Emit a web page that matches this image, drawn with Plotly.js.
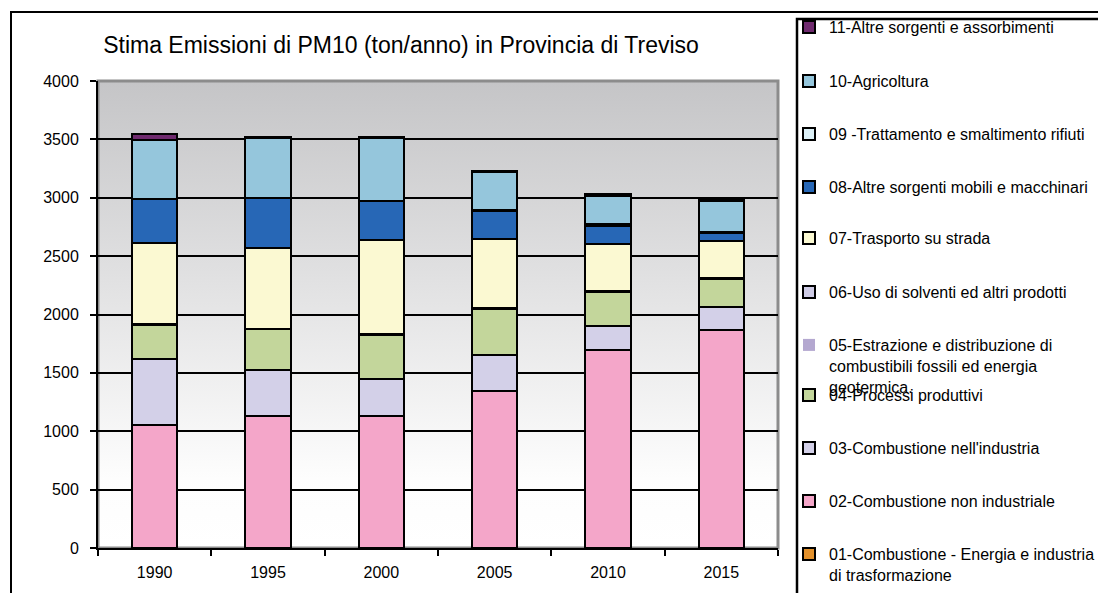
<!DOCTYPE html>
<html>
<head>
<meta charset="utf-8">
<script src="https://cdn.plot.ly/plotly-3.0.1.min.js"></script>
<style>html,body{margin:0;padding:0;background:#fff;}#chart{width:1098px;height:593px;}</style>
</head>
<body>
<div id="chart"></div>
<script>
// ---- data ----
const years = ['1990', '1995', '2000', '2005', '2010', '2015'];
const s01 = [3, 3, 3, 3, 3, 3];
const s02 = [1053, 1127, 1124, 1338, 1690, 1866];
const s03 = [560, 392, 318, 315, 208, 195];
const s04 = [297, 351, 382, 394, 294, 243];
const s05 = [2, 2, 2, 2, 2, 2];
const s06 = [3, 3, 3, 3, 3, 3];
const s07 = [698, 690, 807, 596, 405, 321];
const s08 = [372, 428, 329, 239, 157, 62];
const s09 = [5, 5, 5, 5, 12, 12];
const s10 = [502, 507, 535, 323, 242, 266];
const s11 = [48, 13, 13, 15, 15, 17];
const seriesNames = [
  '01-Combustione - Energia e industria<br>di trasformazione',
  '02-Combustione non industriale',
  "03-Combustione nell'industria",
  '04-Processi produttivi',
  '05-Estrazione e distribuzione di<br>combustibili fossili ed energia<br>geotermica.',
  '06-Uso di solventi ed altri prodotti',
  '07-Trasporto su strada',
  '08-Altre sorgenti mobili e macchinari',
  '09 -Trattamento e smaltimento rifiuti',
  '10-Agricoltura',
  '11-Altre sorgenti e assorbimenti'
];
const seriesValues = [s01, s02, s03, s04, s05, s06, s07, s08, s09, s10, s11];
const colors = ['#e3912c', '#f4a6c9', '#d3d0e8', '#c3d69b', '#b4a8d0', '#cfcce6',
                '#fbf9d2', '#2767b6', '#dcf0f7', '#95c6dc', '#6f2a6e'];
const yTicks = [0, 500, 1000, 1500, 2000, 2500, 3000, 3500, 4000];

// ---- geometry helpers ----
const W = 1098, H = 593;
const mL = 98, mR = 320, mT = 81, mB = 45;
const pw = W - mL - mR, ph = H - mT - mB;
const px = X => (X - mL) / pw;
const py = Y => (H - mB - Y) / ph;

// legend item vertical positions (pixel centre of first line), 01 (bottom) .. 11 (top)
const legendY = [553, 500, 447, 394, 344, 291, 237, 186, 133, 80, 26];
const FONT = '"Liberation Sans", Arial, sans-serif';

const traces = seriesValues.map((vals, i) => ({
  type: 'bar',
  x: years,
  y: vals,
  name: seriesNames[i],
  marker: {color: colors[i], line: {color: i === 4 ? colors[i] : '#000', width: i === 4 ? 0 : 2}},
  legend: i === 0 ? 'legend' : 'legend' + (i + 1),
  showlegend: true,
  hoverinfo: 'name+y'
}));

const layout = {
  width: W, height: H,
  showlegend: true,
  margin: {l: mL, r: mR, t: mT, b: mB, pad: 0, autoexpand: false},
  paper_bgcolor: '#ffffff',
  plot_bgcolor: 'rgba(0,0,0,0)',
  font: {family: FONT, color: '#000', size: 16},
  barmode: 'stack',
  bargap: 0.6,
  title: {
    text: 'Stima Emissioni di PM10 (ton/anno) in Provincia di Treviso',
    font: {family: FONT, size: 23, color: '#000'},
    xref: 'container', x: 401 / W, xanchor: 'center',
    yref: 'container', y: 1 - 45 / H, yanchor: 'middle'
  },
  xaxis: {
    type: 'category',
    tickson: 'boundaries',
    ticks: 'outside', ticklen: 6, tickwidth: 2, tickcolor: '#000',
    ticklabelstandoff: 9,
    showline: true, linecolor: '#000', linewidth: 2,
    showgrid: false,
    tickfont: {family: FONT, size: 16, color: '#000'},
    fixedrange: true
  },
  yaxis: {
    range: [0, 4000],
    tickvals: yTicks,
    ticktext: yTicks.map(String),
    ticks: 'outside', ticklen: 6, tickwidth: 2, tickcolor: '#000',
    ticklabelstandoff: 8,
    showline: true, linecolor: '#000', linewidth: 2,
    showgrid: true, gridcolor: '#000', gridwidth: 2,
    zeroline: false,
    tickfont: {family: FONT, size: 16, color: '#000'},
    fixedrange: true
  },
  images: [{
    source: 'data:image/svg+xml;utf8,' + encodeURIComponent(
      '<svg xmlns="http://www.w3.org/2000/svg" width="10" height="100" viewBox="0 0 10 100" preserveAspectRatio="none">' +
      '<defs><linearGradient id="g" x1="0" y1="0" x2="0" y2="1">' +
      '<stop offset="0" stop-color="#c5c5c7"/><stop offset="0.85" stop-color="#fdfdfd"/><stop offset="1" stop-color="#ffffff"/>' +
      '</linearGradient></defs><rect x="0" y="0" width="10" height="100" fill="url(#g)"/></svg>'),
    xref: 'paper', yref: 'paper', x: 0, y: 1, sizex: 1, sizey: 1,
    sizing: 'stretch', layer: 'below', xanchor: 'left', yanchor: 'top'
  }],
  shapes: [
    // outer chart frame
    {type: 'rect', xref: 'paper', yref: 'paper', x0: px(11), x1: px(1200), y0: py(700), y1: py(12),
     line: {color: '#000', width: 2}, fillcolor: 'rgba(0,0,0,0)', layer: 'below'},
    // legend frame
    {type: 'rect', xref: 'paper', yref: 'paper', x0: px(797), x1: px(1200), y0: py(700), y1: py(19),
     line: {color: '#000', width: 2.5}, fillcolor: 'rgba(0,0,0,0)', layer: 'above'},
    // plot area border (top/right gray)
    {type: 'rect', xref: 'paper', yref: 'paper', x0: 0, x1: 1, y0: 0, y1: 1,
     line: {color: '#8c8c8c', width: 3}, fillcolor: 'rgba(0,0,0,0)', layer: 'below'}
  ]
};

// one legend per item so the vertical spacing matches the reference
for (let i = 0; i < 11; i++) {
  const key = i === 0 ? 'legend' : 'legend' + (i + 1);
  layout[key] = {
    visible: true,
    x: px(789), xanchor: 'left',
    y: py(legendY[i] - 16), yanchor: 'top',
    valign: 'top',
    bgcolor: 'rgba(0,0,0,0)', borderwidth: 0,
    font: {family: FONT, size: 16, color: '#000'},
    itemwidth: 30,
    itemclick: false, itemdoubleclick: false
  };
}

Plotly.newPlot('chart', traces, layout, {displayModeBar: false, staticPlot: true});
</script>
</body>
</html>
